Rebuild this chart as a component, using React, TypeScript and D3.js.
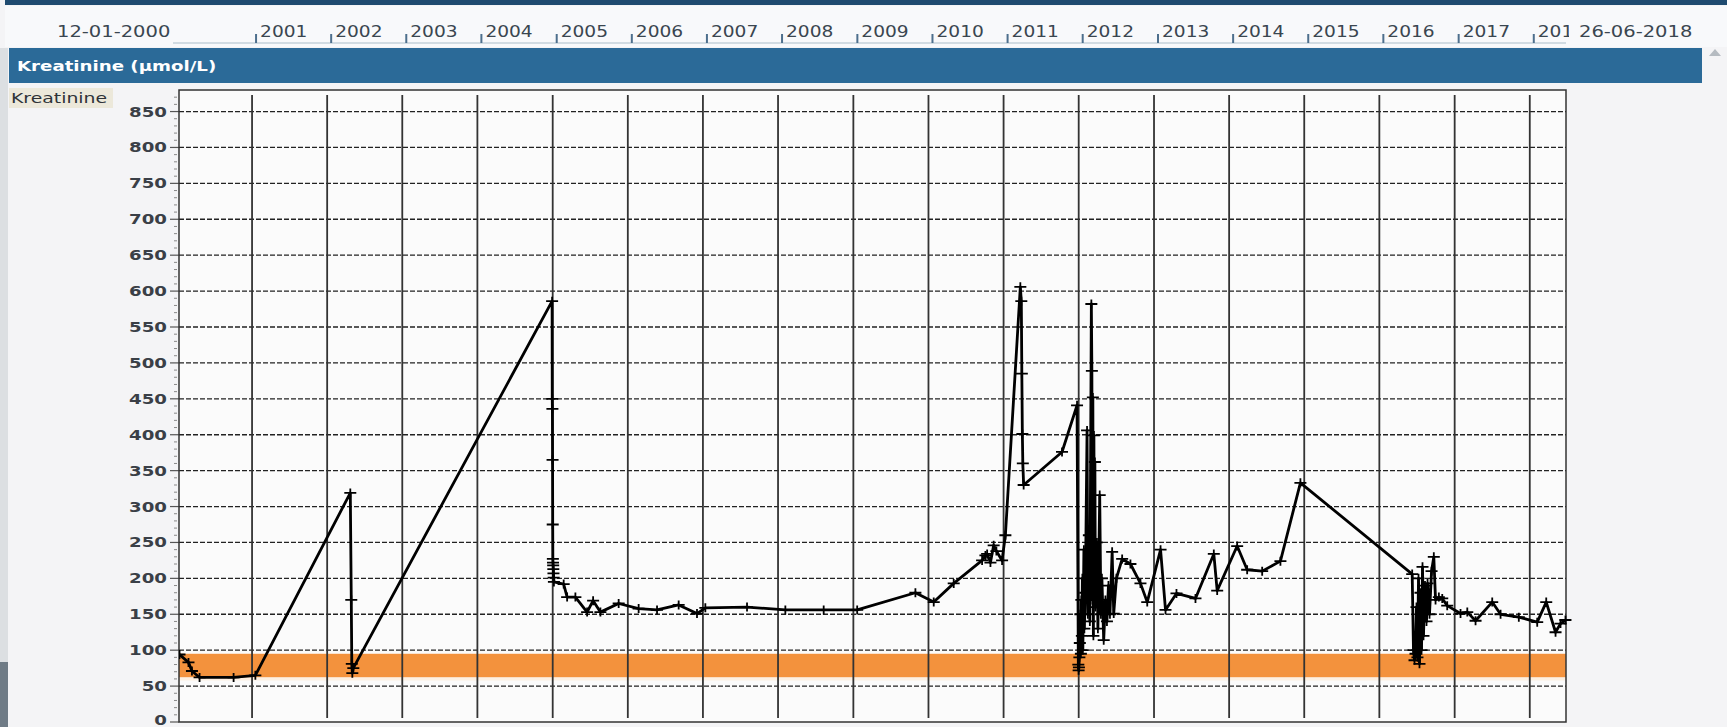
import React from "react";
import * as d3 from "d3";

// ---- data (decimal year, µmol/L) ----
const sampleYears: number[] = [
  2000.037, 2000.156, 2000.202, 2000.303, 2000.755, 2001.044,
  2002.308, 2002.321, 2002.328, 2002.335, 2002.348,
  2004.992, 2004.994, 2004.996, 2004.998, 2005.0, 2005.002, 2005.004, 2005.006, 2005.008, 2005.01, 2005.013, 2005.016,
  2005.146, 2005.192, 2005.302, 2005.458, 2005.538, 2005.635, 2005.878, 2006.144, 2006.389, 2006.677, 2006.921,
  2007.032, 2007.587, 2008.097, 2008.606, 2009.051, 2009.826, 2010.07, 2010.336, 2010.714, 2010.758, 2010.781,
  2010.825, 2010.868, 2010.904, 2010.98, 2011.024, 2011.223, 2011.236, 2011.243, 2011.25, 2011.256, 2011.267,
  2011.778, 2011.978, 2011.995, 2011.999, 2012.003, 2012.009, 2012.015, 2012.022, 2012.029, 2012.035, 2012.042,
  2012.049, 2012.055, 2012.069, 2012.075, 2012.088, 2012.111, 2012.122, 2012.135, 2012.148, 2012.168, 2012.175,
  2012.182, 2012.188, 2012.195, 2012.202, 2012.208, 2012.215, 2012.222, 2012.242, 2012.255, 2012.279, 2012.295,
  2012.308, 2012.332, 2012.355, 2012.375, 2012.395, 2012.415, 2012.444, 2012.465, 2012.501, 2012.577, 2012.687,
  2012.82, 2012.91, 2013.087, 2013.153, 2013.299, 2013.552, 2013.796, 2013.841, 2014.107, 2014.24, 2014.44,
  2014.683, 2014.949, 2016.436, 2016.453, 2016.467, 2016.48, 2016.493, 2016.506, 2016.52, 2016.533, 2016.546,
  2016.56, 2016.573, 2016.586, 2016.606, 2016.626, 2016.64, 2016.666, 2016.693, 2016.723, 2016.746, 2016.79,
  2016.835, 2016.901, 2017.078, 2017.168, 2017.278, 2017.5, 2017.611, 2017.854, 2018.099, 2018.219, 2018.343,
  2018.409, 2018.475,
];
const kreatinine: number[] = [
  94, 83, 71, 62, 62, 65,
  319, 170, 81, 68, 75,
  586, 450, 436, 365, 275, 227, 222, 218, 213, 207, 201, 195,
  192, 174, 174, 153, 169, 153, 165, 158, 156, 163, 151,
  159, 160, 156, 156, 156, 180, 167, 193, 225, 232, 234,
  222, 246, 238, 225, 260, 606, 586, 485, 401, 360, 330,
  376, 441, 80, 72, 76, 90, 110, 150, 95, 170, 120,
  200, 100, 240, 130, 180, 406, 150, 260, 140, 582, 489,
  170, 452, 120, 399, 210, 362, 160, 250, 130, 316, 150,
  200, 114, 170, 140, 190, 150, 237, 151, 200, 227, 220,
  193, 167, 240, 156, 179, 172, 234, 183, 245, 212, 210,
  224, 333, 206, 100, 86, 95, 160, 90, 200, 81, 180,
  100, 216, 120, 190, 140, 193, 150, 210, 230, 170, 174,
  172, 162, 151, 153, 141, 167, 150, 146, 139, 167, 125,
  137, 142,
];
const yTicks: number[] = [0, 50, 100, 150, 200, 250, 300, 350, 400, 450, 500, 550, 600, 650, 700, 750, 800, 850];
const headerYears: number[] = [2001, 2002, 2003, 2004, 2005, 2006, 2007, 2008, 2009, 2010, 2011, 2012, 2013, 2014, 2015, 2016, 2017, 2018];
const startLabel = "12-01-2000";
const endLabel = "26-06-2018";
const referenceRange: [number, number] = [62, 95];
const title = "Kreatinine (µmol/L)";
const seriesName = "Kreatinine";

function fromDecimal(y: number): Date {
  const Y = Math.floor(y);
  const s = new Date(Y, 0, 1).getTime();
  const e = new Date(Y + 1, 0, 1).getTime();
  return new Date(s + (y - Y) * (e - s));
}

const W = 1727, H = 727;
const L = 179, R = 1566, T = 90, B = 722;
const FONT = "'DejaVu Sans', Verdana, sans-serif";

export default function App() {
  const x = d3.scaleTime().domain([new Date(2000, 0, 12), new Date(2018, 5, 26)]).range([L, R]);
  const y = d3.scaleLinear().domain([0, 880]).range([B, T]);
  const pts = sampleYears.map((yr, i) => ({ d: fromDecimal(yr), v: kreatinine[i] }));
  const line = d3.line<{ d: Date; v: number }>().x(p => x(p.d)).y(p => y(p.v));
  const minor = d3.range(0, 880, 10).filter(v => v % 50 !== 0);
  const yearLines = headerYears.map(yr => x(new Date(yr, 0, 1)));

  return (
    <div style={{ position: "fixed", left: 0, top: 0, width: W, height: H, background: "#f4f4f6" }}>
      <svg width={W} height={H} style={{ display: "block" }}>
        <defs>
          <clipPath id="plotclip"><rect x={L} y={T} width={R - L + 6} height={B - T} /></clipPath>
          <clipPath id="hdrclip"><rect x={0} y={0} width={1569} height={50} /></clipPath>
        </defs>
        <rect x={0} y={0} width={W} height={H} fill="#f4f4f6" />
        {/* top dark band */}
        <rect x={5} y={0} width={W - 5} height={5} fill="#1f4b70" />
        {/* header row */}
        <rect x={5} y={6} width={W - 5} height={41} fill="#f8f9fb" />
        <line x1={L - 6} x2={R} y1={43} y2={43} stroke="#c5d0da" strokeWidth={1.5} />
        <text transform={`translate(57,37) scale(1.22,1)`} fontFamily={FONT} fontSize={16} fill="#3a4650">{startLabel}</text>
        <g clipPath="url(#hdrclip)">
          {headerYears.map((yr, i) => {
            const px = yearLines[i] + 4;
            return (
              <g key={yr}>
                <line x1={px} x2={px} y1={34} y2={43} stroke="#4d6f8d" strokeWidth={2} />
                <text transform={`translate(${px + 4},37) scale(1.2,1)`} fontFamily={FONT} fontSize={15.5} fill="#3a4650">{yr}</text>
              </g>
            );
          })}
        </g>
        <text transform={`translate(1579,37) scale(1.22,1)`} fontFamily={FONT} fontSize={16} fill="#3a4650">{endLabel}</text>
        {/* title bar */}
        <rect x={9} y={48} width={1693} height={35} fill="#2b6a98" />
        <text transform={`translate(17,71) scale(1.3,1)`} fontFamily={FONT} fontSize={14} fontWeight="bold" fill="#ffffff">{title}</text>
        <path d="M1709,56 L1715,49 L1721,56 Z" fill="#b5bbc1" />
        {/* left edge */}
        <rect x={0} y={48} width={8} height={H - 48} fill="#dcdfe2" />
        <rect x={0} y={662} width={8} height={H - 662} fill="#6f7b86" />
        {/* series label */}
        <rect x={9} y={88} width={104} height={20} fill="#ece8da" />
        <text transform={`translate(11,103) scale(1.3,1)`} fontFamily={FONT} fontSize={14.5} fill="#2f3338">{seriesName}</text>
        {/* plot background */}
        <rect x={L} y={T} width={R - L} height={B - T} fill="#fbfbfb" />
        {/* reference band */}
        <rect x={L} y={y(referenceRange[1])} width={R - L} height={y(referenceRange[0]) - y(referenceRange[1])} fill="#f3923d" />
        <rect x={L} y={y(referenceRange[0])} width={R - L} height={3} fill="#fdf0e2" />
        {/* horizontal dashed grid */}
        {yTicks.filter(v => v > 0).map(v => (
          <line key={v} x1={L} x2={R} y1={y(v)} y2={y(v)} stroke="#222" strokeWidth={1.3} strokeDasharray="5,2" />
        ))}
        {/* vertical year lines */}
        {yearLines.map((px, i) => (
          <line key={i} x1={px} x2={px} y1={T + 5} y2={B - 4} stroke="#333" strokeWidth={1.8} />
        ))}
        {/* y axis ticks and labels */}
        {yTicks.map(v => (
          <g key={v}>
            <line x1={L - 9} x2={L} y1={y(v)} y2={y(v)} stroke="#555" strokeWidth={1.2} />
            <text transform={`translate(${L - 12},${Math.min(y(v) + 5, 725)}) scale(1.3,1)`} textAnchor="end" fontFamily={FONT} fontSize={14} fontWeight="bold" fill="#3a3f47">{v}</text>
          </g>
        ))}
        {minor.map(v => (
          <line key={v} x1={L - 5} x2={L - 2} y1={y(v)} y2={y(v)} stroke="#888" strokeWidth={1} />
        ))}
        {/* plot border */}
        <rect x={L} y={T} width={R - L} height={B - T} fill="none" stroke="#333" strokeWidth={1.5} />
        {/* series */}
        <g clipPath="url(#plotclip)">
          <path d={line(pts) || ""} fill="none" stroke="#000" strokeWidth={2.8} strokeLinejoin="round" />
          {pts.map((p, i) => {
            const cx = x(p.d), cy = y(p.v);
            return (
              <path key={i} d={`M${cx - 6},${cy}H${cx + 6}M${cx},${cy - 4.5}V${cy + 4.5}`} stroke="#000" strokeWidth={1.8} fill="none" />
            );
          })}
        </g>
      </svg>
    </div>
  );
}
